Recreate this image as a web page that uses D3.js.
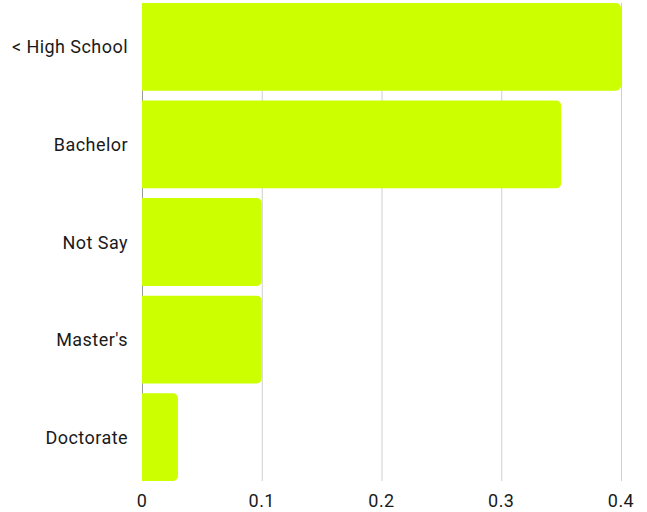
<!DOCTYPE html>
<html><head><meta charset="utf-8">
<script src="https://cdn.jsdelivr.net/npm/d3@7"></script>
<style>body{margin:0;background:#fff;}svg{display:block;font-family:Roboto,sans-serif;}</style>
</head><body>
<svg id="c" width="647" height="512"></svg>
<script>
const categories = ["< High School", "Bachelor", "Not Say", "Master's", "Doctorate"];
const values = [0.4, 0.35, 0.1, 0.1, 0.03];
const tickValues = [0, 0.1, 0.2, 0.3, 0.4];

const svg = d3.select("#c");
const x = d3.scaleLinear().domain([0, 0.4]).range([142, 621]);
const y = d3.scaleBand().domain(categories).range([3, 481]).paddingInner(0.1).paddingOuter(0);

// gridlines
svg.append("g").selectAll("line").data(tickValues).join("line")
  .attr("x1", d => x(d) + 0.5).attr("x2", d => x(d) + 0.5)
  .attr("y1", 3).attr("y2", 481)
  .attr("stroke", d => d === 0 ? "#999" : "#d0d0d0").attr("stroke-width", 1);

function barPath(x0, x1, y0, h, r) {
  r = Math.min(r, (x1 - x0) / 2, h / 2);
  return `M${x0},${y0}H${x1 - r}A${r},${r} 0 0 1 ${x1},${y0 + r}V${y0 + h - r}A${r},${r} 0 0 1 ${x1 - r},${y0 + h}H${x0}Z`;
}

svg.append("g").selectAll("path").data(categories).join("path")
  .attr("d", (c, i) => barPath(x(0), x(values[i]), y(c), y.bandwidth(), 5))
  .attr("fill", "#ccff00");

// category labels
svg.append("g").selectAll("text").data(categories).join("text")
  .attr("x", 128).attr("y", c => y(c) + y.bandwidth() / 2)
  .attr("text-anchor", "end").attr("dominant-baseline", "central")
  .attr("font-size", 18).attr("letter-spacing", "0.45px").attr("fill", "#1a1a1a").text(c => c);

// x tick labels
svg.append("g").selectAll("text").data(tickValues).join("text")
  .attr("x", d => x(d)).attr("y", 500)
  .attr("text-anchor", "middle").attr("dominant-baseline", "central")
  .attr("font-size", 18).attr("letter-spacing", "0.45px").attr("fill", "#1a1a1a").text(d => d3.format("")(d));
</script>
</body></html>
